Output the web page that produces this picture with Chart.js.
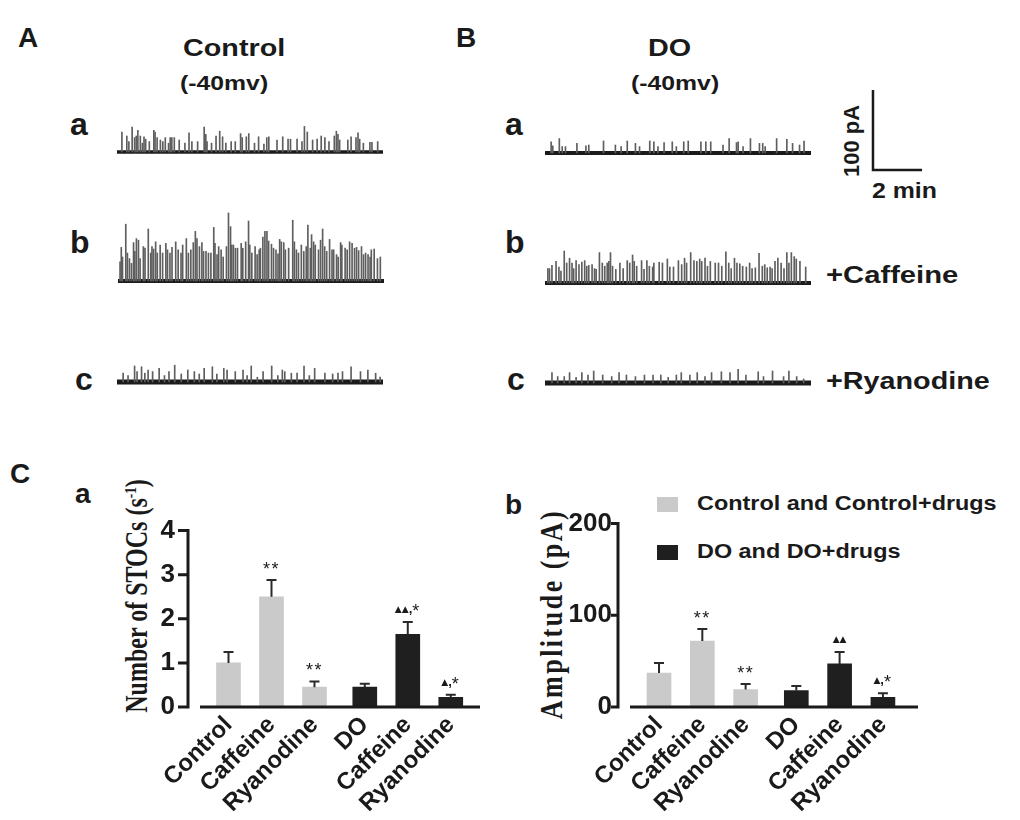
<!DOCTYPE html>
<html>
<head>
<meta charset="utf-8">
<script src="https://cdn.jsdelivr.net/npm/chart.js@4.4.0/dist/chart.umd.min.js"></script>
<style>
body { margin: 0; background: #fff; }
#fig { position: relative; width: 1020px; height: 820px; overflow: hidden;
       font-family: "Liberation Sans", Arial, sans-serif; font-weight: bold; color: #1a1a1a; }
#fig canvas { position: absolute; }
.t { position: absolute; white-space: nowrap; line-height: 1; transform-origin: 0 0; }
.rot { position: absolute; white-space: nowrap; line-height: 1; }
.serif { font-family: "Liberation Serif", "Times New Roman", serif; }
.sq { position: absolute; width: 21px; height: 15px; }
</style>
</head>
<body>
<div id="fig">
  <div class="t" style="left:18px;top:24px;font-size:28px">A</div>
  <div class="t" style="left:456px;top:24px;font-size:28px">B</div>
  <div class="t" style="left:183px;top:37px;font-size:23px;transform:scaleX(1.25)">Control</div>
  <div class="t" style="left:180px;top:72px;font-size:21px;transform:scaleX(1.18)">(-40mv)</div>
  <div class="t" style="left:648px;top:37px;font-size:23px;transform:scaleX(1.25)">DO</div>
  <div class="t" style="left:631px;top:72px;font-size:21px;transform:scaleX(1.18)">(-40mv)</div>

  <div class="t" style="left:70px;top:108px;font-size:32px">a</div>
  <div class="t" style="left:70px;top:226px;font-size:32px">b</div>
  <div class="t" style="left:75px;top:363px;font-size:32px">c</div>
  <div class="t" style="left:505px;top:108px;font-size:32px">a</div>
  <div class="t" style="left:505px;top:226px;font-size:32px">b</div>
  <div class="t" style="left:507px;top:363px;font-size:32px">c</div>

  <div class="t" style="left:826px;top:264px;font-size:23px;transform:scaleX(1.27)">+Caffeine</div>
  <div class="t" style="left:826px;top:370px;font-size:23px;transform:scaleX(1.25)">+Ryanodine</div>
  <div class="rot" style="left:852px;top:141px;font-size:22px;transform:translate(-50%,-50%) rotate(-90deg)">100 pA</div>
  <div class="t" style="left:872px;top:180px;font-size:22px;transform:scaleX(1.13)">2 min</div>

  <div class="t" style="left:10px;top:460px;font-size:28px">C</div>
  <div class="t" style="left:75px;top:480px;font-size:28px">a</div>
  <div class="t" style="left:505px;top:491px;font-size:28px">b</div>

  <div class="rot serif" style="left:137px;top:596px;font-size:24px;transform:translate(-50%,-50%) rotate(-90deg) scaleY(1.3)">Number of STOCs (s<sup style="font-size:0.55em">-1</sup>)</div>
  <div class="rot serif" style="left:552px;top:614px;font-size:26px;letter-spacing:2.5px;transform:translate(-50%,-50%) rotate(-90deg) scaleY(1.2)">Amplitude (pA)</div>

  <div class="sq" style="left:657px;top:497px;background:#cacaca"></div>
  <div class="t" id="leg1" style="left:697px;top:494px;font-size:19.5px;transform:scaleX(1.2)"></div>
  <div class="sq" style="left:657px;top:545px;background:#1f1f1f"></div>
  <div class="t" id="leg2" style="left:697px;top:542px;font-size:19.5px;transform:scaleX(1.2)"></div>

  <canvas id="aa" width="266" height="100" style="left:117px;top:56px"></canvas>
  <canvas id="ab" width="266" height="100" style="left:118px;top:185px"></canvas>
  <canvas id="ac" width="266" height="100" style="left:117px;top:286px"></canvas>
  <canvas id="ba" width="266" height="100" style="left:545px;top:57px"></canvas>
  <canvas id="bb" width="266" height="100" style="left:545px;top:187px"></canvas>
  <canvas id="bc" width="266" height="100" style="left:545px;top:287px"></canvas>
  <canvas id="scale" width="70" height="100" style="left:863px;top:80px"></canvas>

  <canvas id="rate" width="400" height="325" style="left:100px;top:490px"></canvas>
  <canvas id="amp" width="420" height="325" style="left:540px;top:490px"></canvas>
</div>

<script>
// trace length (s) and scale bar (100 pA, 2 min)
const traceLength = 650;
const scaleBarPA = 100;
const scaleBarSec = 120;

// A-a control
const aaTime = [12, 24, 29, 37, 43, 47, 51, 57, 62, 66, 70, 79,
  90, 93, 98, 106, 112, 118, 126, 130, 134, 140, 152, 166,
  176, 183, 197, 213, 217, 220, 231, 242, 251, 258, 266, 279,
  289, 302, 306, 316, 322, 336, 346, 359, 366, 371, 391, 405,
  418, 424, 440, 452, 458, 465, 478, 489, 499, 508, 518, 531,
  536, 540, 544, 564, 572, 584, 589, 593, 602, 618, 623, 637];
const aaAmp = [25, 20, 13, 31, 18, 20, 27, 20, 11, 19, 16, 13,
  27, 25, 18, 15, 13, 18, 11, 18, 18, 18, 15, 11,
  24, 13, 13, 31, 22, 13, 11, 20, 26, 19, 11, 13,
  13, 23, 18, 19, 23, 11, 19, 10, 18, 19, 15, 19,
  16, 16, 16, 13, 32, 25, 15, 16, 20, 18, 13, 20,
  26, 22, 15, 15, 19, 18, 24, 16, 11, 12, 12, 13];

// A-b control + caffeine
const abTime = [5, 8, 11, 19, 23, 28, 33, 38, 41, 45, 50, 54,
  62, 66, 74, 80, 83, 87, 92, 96, 103, 109, 117, 121,
  127, 132, 141, 147, 154, 158, 167, 172, 178, 184, 189, 193,
  199, 205, 209, 215, 221, 227, 234, 237, 242, 246, 252, 257,
  265, 270, 275, 278, 282, 287, 292, 301, 305, 312, 319, 322,
  327, 335, 340, 345, 348, 354, 359, 364, 368, 375, 380, 386,
  391, 395, 399, 405, 409, 417, 427, 431, 436, 441, 448, 454,
  460, 464, 470, 473, 478, 482, 490, 495, 500, 505, 510, 517,
  523, 527, 534, 538, 544, 547, 555, 560, 566, 572, 578, 583,
  588, 595, 600, 605, 611, 616, 619, 626, 634, 641];
const abAmp = [24, 42, 30, 71, 35, 28, 22, 48, 37, 53, 51, 28,
  43, 41, 65, 35, 43, 40, 49, 35, 45, 35, 47, 39,
  35, 42, 49, 39, 35, 45, 53, 35, 39, 48, 62, 53,
  43, 48, 37, 37, 35, 35, 67, 47, 33, 43, 39, 30,
  43, 85, 68, 45, 45, 41, 41, 47, 41, 49, 75, 45,
  35, 43, 33, 39, 41, 55, 62, 62, 50, 46, 41, 39,
  34, 52, 49, 48, 39, 41, 76, 49, 39, 35, 45, 37,
  43, 70, 41, 58, 49, 45, 39, 51, 65, 43, 37, 52,
  39, 39, 33, 30, 48, 45, 41, 39, 49, 47, 41, 42,
  38, 43, 33, 35, 33, 30, 39, 40, 28, 30];

// A-c control + ryanodine
const acTime = [15, 27, 43, 49, 60, 68, 76, 87, 103, 116, 127, 141,
  157, 173, 189, 201, 213, 233, 244, 261, 269, 289, 308, 318,
  328, 343, 357, 378, 393, 404, 410, 426, 440, 457, 470, 483,
  508, 527, 540, 551, 572, 595, 613, 632, 643];
const acAmp = [11, 8, 20, 13, 19, 11, 15, 13, 17, 8, 13, 21,
  10, 15, 13, 10, 17, 19, 10, 17, 15, 13, 15, 8,
  20, 6, 13, 20, 8, 15, 13, 11, 11, 20, 8, 17,
  11, 10, 11, 13, 19, 13, 15, 11, 6];

// B-a DO
const baTime = [15, 19, 35, 42, 50, 78, 100, 107, 143, 172, 186, 201,
  221, 231, 256, 266, 276, 291, 311, 321, 339, 350, 381, 393,
  405, 435, 450, 468, 472, 484, 502, 524, 532, 538, 566, 591,
  605, 622, 633];
const baAmp = [14, 9, 18, 8, 8, 12, 9, 10, 15, 10, 8, 15,
  12, 8, 15, 14, 8, 13, 14, 8, 14, 15, 14, 14,
  14, 10, 18, 13, 14, 8, 18, 12, 12, 8, 18, 17,
  12, 10, 15];

// B-b DO + caffeine
const bbTime = [7, 11, 17, 27, 34, 39, 47, 53, 60, 66, 70, 76,
  83, 90, 97, 102, 107, 115, 121, 125, 133, 140, 146, 152,
  156, 160, 165, 173, 183, 191, 201, 207, 214, 218, 224, 236,
  242, 249, 255, 263, 266, 279, 287, 299, 305, 314, 326, 334,
  341, 346, 356, 364, 371, 378, 383, 391, 397, 404, 416, 424,
  432, 442, 449, 455, 463, 469, 476, 483, 492, 500, 506, 514,
  523, 531, 537, 543, 550, 555, 562, 569, 577, 584, 591, 596,
  602, 609, 614, 623, 637];
const bbAmp = [18, 18, 22, 27, 20, 15, 40, 25, 31, 25, 18, 28,
  23, 26, 28, 21, 22, 23, 18, 17, 38, 25, 21, 25,
  27, 38, 21, 17, 25, 18, 28, 25, 35, 27, 21, 28,
  17, 28, 21, 20, 25, 26, 25, 30, 20, 20, 28, 23,
  31, 25, 38, 28, 27, 30, 27, 31, 21, 27, 25, 25,
  21, 39, 25, 18, 31, 25, 24, 21, 20, 25, 18, 19,
  37, 21, 23, 19, 20, 18, 27, 31, 25, 18, 38, 25,
  38, 33, 30, 27, 20];

// B-c DO + ryanodine
const bcTime = [17, 31, 47, 60, 76, 90, 105, 119, 141, 163, 181, 199,
  221, 243, 264, 283, 301, 321, 333, 354, 372, 391, 407, 431,
  452, 472, 491, 521, 534, 556, 583, 596, 615, 632];
const bcAmp = [13, 8, 8, 13, 7, 13, 10, 15, 10, 8, 13, 10,
  8, 10, 10, 10, 7, 10, 13, 10, 13, 8, 13, 14,
  13, 17, 10, 14, 8, 15, 8, 15, 8, 5];

// C bar charts
const groups = ['Control', 'Caffeine', 'Ryanodine', 'DO', 'Caffeine', 'Ryanodine'];
const legendNames = ['Control and Control+drugs', 'DO and DO+drugs'];
const stocRate = [1.0, 2.5, 0.45, 0.45, 1.65, 0.22];
const stocRateErr = [0.25, 0.38, 0.13, 0.08, 0.28, 0.06];
const rateMarks = ['', '**', '**', '', '▲▲,*', '▲,*'];
const amplitude = [37, 72, 19, 18, 47, 10.5];
const amplitudeErr = [11, 13, 6, 5, 13, 4.5];
const ampMarks = ['', '**', '**', '', '▲▲', '▲,*'];

Chart.defaults.font.family = '"Liberation Sans", Arial, sans-serif';
Chart.defaults.color = '#1a1a1a';

document.getElementById('leg1').textContent = legendNames[0];
document.getElementById('leg2').textContent = legendNames[1];

function traceChart(id, times, amps, lineW) {
  new Chart(document.getElementById(id), {
    type: 'bar',
    data: {
      datasets: [
        {
          data: times.map((t, i) => ({x: t, y: amps[i]})),
          backgroundColor: '#5e5e5e',
          barThickness: 1,
          borderWidth: 0
        },
        {
          type: 'line',
          data: [{x: 0, y: 0}, {x: traceLength, y: 0}],
          borderColor: '#1b1b1b',
          borderWidth: lineW,
          pointRadius: 0
        }
      ]
    },
    options: {
      responsive: false, animation: false, events: [],
      plugins: {legend: {display: false}, tooltip: {enabled: false}},
      scales: {
        x: {type: 'linear', offset: false, min: 0, max: traceLength, display: false},
        y: {min: -5, max: 120, display: false}
      }
    }
  });
}

traceChart('aa', aaTime, aaAmp, 3.5);
traceChart('ab', abTime, abAmp, 4);
traceChart('ac', acTime, acAmp, 5);
traceChart('ba', baTime, baAmp, 4);
traceChart('bb', bbTime, bbAmp, 4);
traceChart('bc', bcTime, bcAmp, 5);

// scale bar drawn on the same pA / s scales as the traces
new Chart(document.getElementById('scale'), {
  type: 'line',
  data: {
    datasets: [{
      data: [{x: 0, y: scaleBarPA}, {x: 0, y: 0}, {x: scaleBarSec, y: 0}],
      borderColor: '#1a1a1a', borderWidth: 2.5, pointRadius: 0, tension: 0,
      borderCapStyle: 'butt', borderJoinStyle: 'miter'
    }]
  },
  options: {
    responsive: false, animation: false, events: [],
    plugins: {legend: {display: false}, tooltip: {enabled: false}},
    scales: {
      x: {type: 'linear', offset: false, min: -24.4, max: 146.7, display: false},
      y: {min: -12.5, max: 112.5, display: false}
    }
  }
});

// bar positions: small gap between the control group and the DO group
const barPos = groups.map((g, i) => i + 1 + (i >= 3 ? 0.17 : 0));
const barColors = ['#cacaca', '#cacaca', '#cacaca', '#1f1f1f', '#1f1f1f', '#1f1f1f'];

function drawMark(ctx, text, cx, baseY) {
  const parts = [...text].map(ch => {
    if (ch === '▲') return {ch, font: '9px "DejaVu Sans"', dy: -5};
    if (ch === ',') return {ch, font: 'bold 13px "Liberation Sans"', dy: -4};
    return {ch, font: '18px "Liberation Sans"', dy: 0, gap: 1.5};
  });
  let w = 0;
  parts.forEach(p => { ctx.font = p.font; p.w = ctx.measureText(p.ch).width + (p.gap || 0); w += p.w; });
  let x = cx - w / 2;
  ctx.textAlign = 'left';
  ctx.textBaseline = 'alphabetic';
  parts.forEach(p => { ctx.font = p.font; ctx.fillText(p.ch, x, baseY + p.dy); x += p.w; });
}

const prismAxes = {
  id: 'prismAxes',
  afterDatasetsDraw(chart, args, opts) {
    const {ctx, chartArea, scales: {x, y}} = chart;
    const ds = chart.data.datasets[0];
    const meta = chart.getDatasetMeta(0);
    ctx.save();
    ctx.fillStyle = '#1a1a1a';
    meta.data.forEach((bar, i) => {
      const top = y.getPixelForValue(ds.data[i].y + ds.errors[i]);
      ctx.strokeStyle = '#2a2a2a';
      ctx.lineWidth = 2;
      ctx.beginPath();
      ctx.moveTo(bar.x, bar.y);
      ctx.lineTo(bar.x, top);
      ctx.moveTo(bar.x - 5, top);
      ctx.lineTo(bar.x + 5, top);
      ctx.stroke();
      if (ds.marks[i]) drawMark(ctx, ds.marks[i], bar.x, top - 5);
    });
    // Prism style axes: detached y axis with outward ticks
    ctx.strokeStyle = '#1a1a1a';
    ctx.lineWidth = 3;
    const ax = chartArea.left - opts.gap;
    const y0 = y.getPixelForValue(0);
    ctx.beginPath();
    ctx.moveTo(ax, y.getPixelForValue(y.max) - 1.5);
    ctx.lineTo(ax, y0 + 1.5);
    y.ticks.forEach(t => {
      const py = y.getPixelForValue(t.value);
      ctx.moveTo(ax - opts.tickLen, py);
      ctx.lineTo(ax, py);
    });
    ctx.stroke();
    ctx.beginPath();
    ctx.moveTo(chartArea.left, y0);
    ctx.lineTo(chartArea.right, y0);
    ctx.stroke();
    ctx.restore();
  }
};

function barChart(id, values, errors, marks, o) {
  return new Chart(document.getElementById(id), {
    type: 'bar',
    data: {
      datasets: [{
        data: values.map((v, i) => ({x: barPos[i], y: v})),
        errors: errors,
        marks: marks,
        backgroundColor: barColors,
        barThickness: 24,
        borderWidth: 0
      }]
    },
    options: {
      responsive: false, animation: false, events: [],
      layout: {padding: {top: o.padTop, right: o.padRight, left: 0, bottom: 0}},
      plugins: {legend: {display: false}, tooltip: {enabled: false},
                prismAxes: {gap: 12, tickLen: o.tickLen}},
      scales: {
        x: {
          type: 'linear', offset: false, min: o.xMin, max: o.xMax,
          grid: {display: false, drawTicks: false}, border: {display: false},
          afterBuildTicks: s => { s.ticks = barPos.map(v => ({value: v})); },
          afterFit: s => { s.height = o.xHeight; },
          ticks: {autoSkip: false, minRotation: 45, maxRotation: 45, padding: 4,
                  font: {size: 24, weight: 'bold'}, callback: (v, i) => groups[i]}
        },
        y: {
          min: 0, max: o.yMax,
          grid: {display: false, drawTicks: false}, border: {display: false},
          afterFit: s => { s.width = o.yWidth; },
          ticks: {stepSize: o.step, padding: o.labelPad, font: {size: 26, weight: 'bold'}}
        }
      }
    },
    plugins: [prismAxes]
  });
}

barChart('rate', stocRate, stocRateErr, rateMarks,
  {padTop: 24, padRight: 20, xMin: 0.337, xMax: 6.85, xHeight: 108, yWidth: 100,
   yMax: 4, step: 1, labelPad: 25, tickLen: 10});
barChart('amp', amplitude, amplitudeErr, ampMarks,
  {padTop: 28, padRight: 42, xMin: 0.33, xMax: 6.98, xHeight: 108, yWidth: 90,
   yMax: 200, step: 100, labelPad: 18, tickLen: 7});
</script>
</body>
</html>
